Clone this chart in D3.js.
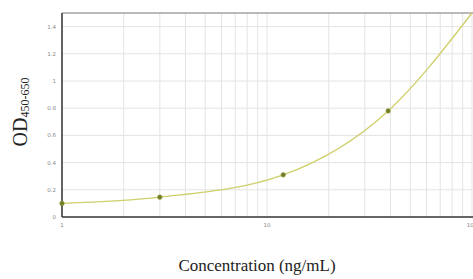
<!DOCTYPE html>
<html><head><meta charset="utf-8">
<script src="https://cdn.jsdelivr.net/npm/d3@7"></script>
<style>html,body{margin:0;padding:0;background:#fff;}svg{display:block;}</style>
</head><body>
<script>
// Standards (dots)
const stdConc = [1, 3, 12, 39];
const stdOD = [0.10, 0.146, 0.31, 0.78];
// Fitted curve
const curveConc = [1, 3, 12, 39, 100];
const curveOD = [0.10, 0.146, 0.31, 0.78, 1.50];
const yTicks = [0, 0.2, 0.4, 0.6, 0.8, 1, 1.2, 1.4];
const xTicks = [1, 10, 100];

const W = 473, H = 279;
const svg = d3.select("body").append("svg").attr("width", W).attr("height", H);
const x = d3.scaleLog().domain([1, 100]).range([62, 472]);
const y = d3.scaleLinear().domain([0, 1.5]).range([217, 13]);

// grid
const minor = [];
for (let d = 1; d < 100; d *= 10) for (let k = 1; k < 10; k++) minor.push(d * k);
minor.push(100);
svg.append("g").selectAll("line").data(minor).join("line")
  .attr("x1", d => x(d)).attr("x2", d => x(d)).attr("y1", 13).attr("y2", 217)
  .attr("stroke", "#e4e4e4").attr("stroke-width", 1);
svg.append("g").selectAll("line").data(yTicks.filter(v => v > 0)).join("line")
  .attr("x1", 62).attr("x2", 472).attr("y1", d => y(d)).attr("y2", d => y(d))
  .attr("stroke", "#e4e4e4").attr("stroke-width", 1);

// borders
svg.append("line").attr("x1", 62).attr("x2", 473).attr("y1", 13).attr("y2", 13)
  .attr("stroke", "#777").attr("stroke-width", 1.2);
svg.append("line").attr("x1", 62).attr("x2", 62).attr("y1", 13).attr("y2", 217)
  .attr("stroke", "#333").attr("stroke-width", 1.5);
svg.append("line").attr("x1", 62).attr("x2", 473).attr("y1", 217).attr("y2", 217)
  .attr("stroke", "#333").attr("stroke-width", 1.5);

// tick labels
svg.append("g").selectAll("text").data(yTicks).join("text")
  .attr("x", 56).attr("y", d => y(d) + 2).attr("text-anchor", "end")
  .attr("font-family", "DejaVu Sans").attr("font-size", 5.5).attr("fill", "#888")
  .text(d => d);
svg.append("g").selectAll("text").data(xTicks).join("text")
  .attr("x", d => x(d)).attr("y", 227).attr("text-anchor", "middle")
  .attr("font-family", "DejaVu Sans").attr("font-size", 5.5).attr("fill", "#888")
  .text(d => d);

// curve
const line = d3.line().x((d, i) => x(curveConc[i])).y(d => y(d)).curve(d3.curveMonotoneX);
svg.append("path").attr("d", line(curveOD)).attr("fill", "none")
  .attr("stroke", "#cfcf6a").attr("stroke-width", 1.3);

// dots
svg.append("g").selectAll("circle").data(stdOD).join("circle")
  .attr("cx", (d, i) => x(stdConc[i])).attr("cy", d => y(d)).attr("r", 2.3)
  .attr("fill", "#6f7d2a").attr("stroke", "#9aa840").attr("stroke-width", 0.6);

// axis titles
svg.append("text").attr("x", 257).attr("y", 271).attr("text-anchor", "middle")
  .attr("font-family", "Liberation Serif").attr("font-size", 17).attr("fill", "#222")
  .text("Concentration (ng/mL)");
const yl = svg.append("text").attr("transform", "translate(27,112) rotate(-90)")
  .attr("text-anchor", "middle").attr("font-family", "Liberation Serif").attr("fill", "#222");
yl.append("tspan").attr("font-size", 20).text("OD");
yl.append("tspan").attr("font-size", 12).attr("dy", 2).text("450-650");
</script>
</body></html>
